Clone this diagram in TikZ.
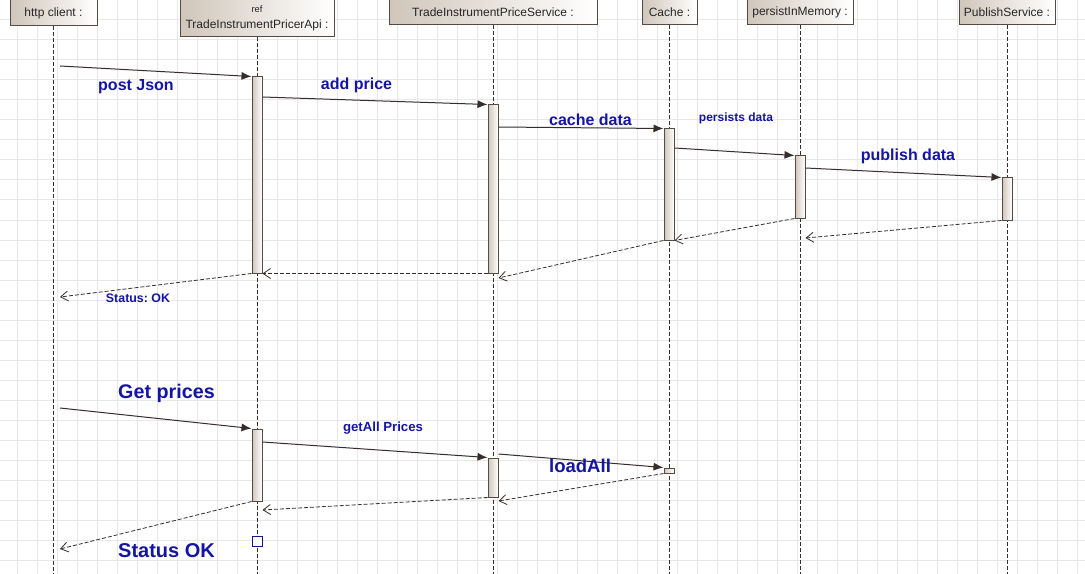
\documentclass[tikz,border=0pt]{standalone}
\usepackage{fontspec}
\setmainfont{Liberation Sans}
\usetikzlibrary{arrows.meta,fit}
\definecolor{msgblue}{RGB}{20,20,165}
\definecolor{headshade}{RGB}{208,198,186}
\definecolor{edge}{RGB}{85,75,70}
\definecolor{lineclr}{RGB}{55,45,45}
\definecolor{gridclr}{RGB}{232,232,232}
\definecolor{endblue}{RGB}{20,20,140}
\frenchspacing

\begin{document}
\begin{tikzpicture}[x=0.75pt,y=-0.75pt,
	head/.style = {draw=edge,line width=0.75pt,left color=headshade,right color=white,inner sep=0pt},
	act/.style = {draw=edge,line width=0.75pt,left color=headshade,right color=white,inner sep=0pt},
	lifeline/.style = {draw=lineclr,dash pattern=on 3pt off 1.5pt,line width=0.6pt},
	msg/.style = {draw=lineclr,line width=0.75pt,-{Latex[length=7.5pt,width=6pt]}},
	ret/.style = {draw=lineclr,line width=0.6pt,dash pattern=on 3pt off 1.5pt,-{Straight Barb[length=5.5pt,width=7.5pt]}},
	lbl/.style = {text=msgblue,font=\bfseries\fontsize{12}{14}\selectfont,inner sep=0pt},
	htext/.style = {text=black!85,font=\fontsize{9}{11}\selectfont,inner sep=0pt}
	]
	\fill[white] (0,0) rectangle (1085,574);
	\useasboundingbox (0,0) rectangle (1085,574);
	%GRIGLIA
	\foreach \gx in {17,37,...,1077} \draw[gridclr,line width=0.75pt] (\gx,0) -- (\gx,574);
	\foreach \gy in {20,40,...,560} \draw[gridclr,line width=0.75pt] (0,\gy) -- (1085,\gy);
	%OGGETTI
	\node[head,fit={(10,0) (97,26)}] (hc) {};
	\node[htext] (hcT) at (hc.center) {http client :};
	\node[head,fit={(180,0) (334,37)}] (api) {};
	\node[htext,font=\fontsize{7}{8}\selectfont] (apiR) at (257,9.5) {ref};
	\node[htext] (apiT) at (257,25.5) {TradeInstrumentPricerApi :};
	\node[head,fit={(389,0) (597,25)}] (svc) {};
	\node[htext] (svcT) at (svc.center) {TradeInstrumentPriceService :};
	\node[head,fit={(642,0) (697,25)}] (cch) {};
	\node[htext] (cchT) at (cch.center) {Cache :};
	\node[head,fit={(747,0) (853,25)}] (pim) {};
	\node[htext] (pimT) at (pim.center) {persistInMemory :};
	\node[head,fit={(959,0) (1055,25)}] (pub) {};
	\node[htext] (pubT) at (pub.center) {PublishService :};
	%LINEE DI VITA
	\draw[lifeline] (hc.south) -- (hc.south |- 0,574);
	\draw[lifeline] (api.south) -- (api.south |- 0,574);
	\draw[lifeline] (svc.south) -- (svc.south |- 0,574);
	\draw[lifeline] (cch.south) -- (cch.south |- 0,574);
	\draw[lifeline] (pim.south) -- (pim.south |- 0,574);
	\draw[lifeline] (pub.south) -- (pub.south |- 0,574);
	%ATTIVAZIONI
	\node[act,fit={(252,77) (262,273)}] (a1) {};
	\node[act,fit={(488,105) (498,273)}] (s1) {};
	\node[act,fit={(664,129) (674,240)}] (c1) {};
	\node[act,fit={(795,156) (805,218)}] (p1) {};
	\node[act,fit={(1002,178) (1012,220)}] (u1) {};
	\node[act,fit={(252,429) (262,501)}] (a2) {};
	\node[act,fit={(488,458) (498,497)}] (s2) {};
	\node[act,fit={(664,468) (674,473)}] (c2) {};
	\node[draw=endblue,fill=white,line width=0.75pt,minimum size=7.5pt,inner sep=0pt] (endA) at (257,541) {};
	%PUNTI LIBERI
	\coordinate (post) at (60,66);
	\coordinate (okA) at (60,297);
	\coordinate (get) at (60,408);
	\coordinate (okB) at (60,549);
	%MESSAGGI - INSERIMENTO
	\draw[msg] (post) -- (a1.north west);
	\draw[msg] (a1.east |- 0,97) -- (s1.north west);
	\draw[msg] (s1.east |- 0,127) -- (c1.north west);
	\draw[msg] (c1.east |- 0,148) -- (p1.north west);
	\draw[msg] (p1.east |- 0,168) -- (u1.north west);
	\draw[ret] (u1.south west) -- (p1.east |- 0,238);
	\draw[ret] (p1.south west) -- (c1.south east);
	\draw[ret] (c1.south west) -- (s1.east |- 0,278);
	\draw[ret] (s1.south west) -- (a1.south east);
	\draw[ret] (a1.south west) -- (okA);
	%MESSAGGI - LETTURA
	\draw[msg] (get) -- (a2.north west);
	\draw[msg] (a2.east |- 0,442) -- (s2.north west);
	\draw[msg] (s2.east |- 0,454) -- (c2.north west);
	\draw[ret] (c2.south west) -- (s2.east |- 0,501);
	\draw[ret] (s2.south west) -- (a2.east |- 0,510);
	\draw[ret] (a2.south west) -- (okB);
	%ETICHETTE
	\node[lbl] (lPost) at (136,86.5) {post Json};
	\node[lbl] (lAdd) at (356.5,85.5) {add price};
	\node[lbl] (lCache) at (590.5,119.5) {cache data};
	\node[lbl,font=\bfseries\fontsize{9}{11}\selectfont] (lPers) at (736,118) {persists data};
	\node[lbl] (lPub) at (908,156.5) {publish data};
	\node[lbl,font=\bfseries\fontsize{9.3}{11}\selectfont] (lOkA) at (138,298.5) {Status: OK};
	\node[lbl,font=\bfseries\fontsize{14.8}{17}\selectfont] (lGet) at (166.5,393.5) {Get prices};
	\node[lbl,font=\bfseries\fontsize{9.9}{12}\selectfont] (lAll) at (383,428.5) {getAll Prices};
	\node[lbl,font=\bfseries\fontsize{13.9}{16}\selectfont] (lLoad) at (580,466) {loadAll};
	\node[lbl,font=\bfseries\fontsize{15}{18}\selectfont] (lOkB) at (166.5,551) {Status OK};
\end{tikzpicture}
\end{document}
